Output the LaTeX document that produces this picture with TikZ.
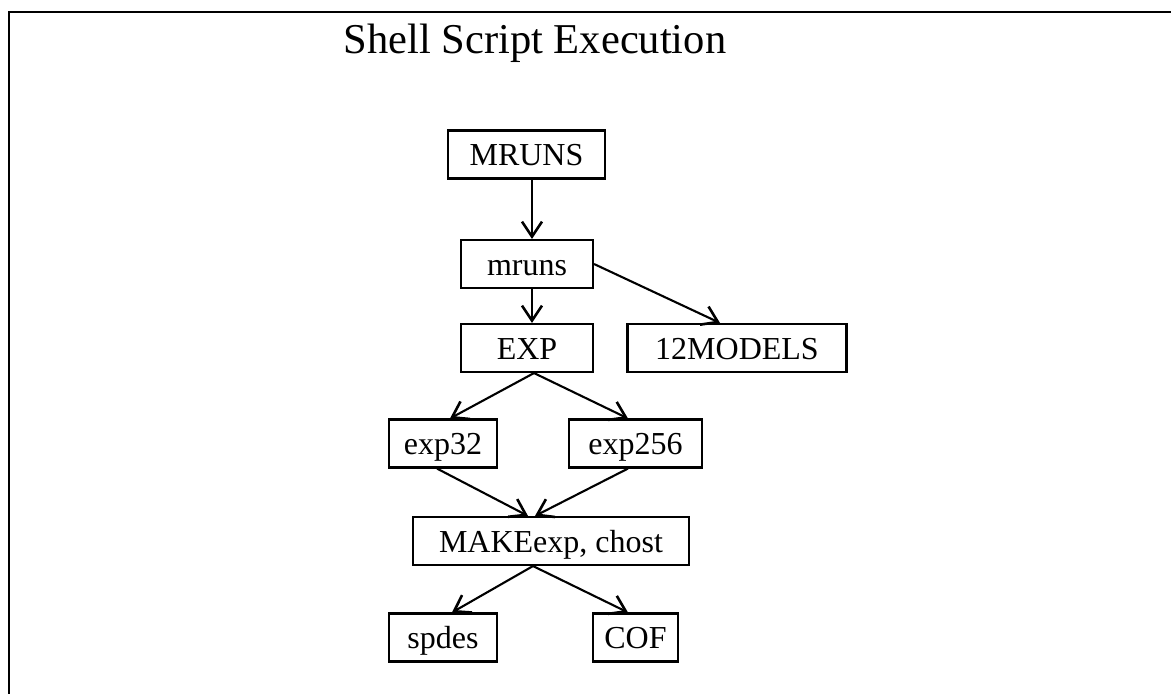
\documentclass[tikz,border=0pt]{standalone}
\usepackage{fontspec}
\setmainfont{Liberation Serif}
\usetikzlibrary{arrows.meta, calc}

\begin{document}
\begin{tikzpicture}[x=1pt, y=-1pt]
  \tikzset{
    sbox/.style={
      rectangle, draw, line width=2.1pt,
      minimum height=48pt, inner sep=0pt,
      text height=22pt, text depth=0pt,
      font=\fontsize{32}{36}\selectfont
    },
    flow/.style={-{Straight Barb[length=15pt, width=20pt, line width=2.6pt]}, line width=2.1pt}
  }
  \useasboundingbox (0,0) rectangle (1171,694);
  % open frame: only the top and left sides are ruled
  \draw[line width=2.8pt] (1171,12) -- (9,12) -- (9,694);
  \node[font=\fontsize{42.5}{48}\selectfont, anchor=base] (title) at (535,53) {Shell Script Execution};
  % script boxes
  \node[sbox, minimum width=157pt] (MRUNS)  at (526.5,154.5) {MRUNS};
  \node[sbox, minimum width=132pt] (mruns)  at (527,264)     {mruns};
  \node[sbox, minimum width=132pt] (EXP)    at (527,348)     {EXP};
  \node[sbox, minimum width=219pt] (models) at (737,348)     {12MODELS};
  \node[sbox, minimum width=108pt] (exp32)  at (443,443.5)   {exp32};
  \node[sbox, minimum width=133pt] (exp256) at (635.5,443.5) {exp256};
  \node[sbox, minimum width=276pt] (make)   at (551,541)     {MAKEexp, chost};
  \node[sbox, minimum width=108pt] (spdes)  at (443,637.5)   {spdes};
  \node[sbox, minimum width=85pt]  (COF)    at (635.5,637.5) {COF};
  % calls between scripts
  \foreach \fs/\from/\ts/\to in {
      5.5pt/MRUNS.south/5pt/mruns.north,
      5pt/mruns.south/5pt/EXP.north,
      0pt/mruns.east/-17pt/models.north,
      7pt/EXP.south/7pt/exp32.north,
      7pt/EXP.south/-7.5pt/exp256.north,
      -6pt/exp32.south/-23pt/make.north,
      -7.5pt/exp256.south/-16pt/make.north,
      -18pt/make.south/9pt/spdes.north,
      -18pt/make.south/-7.5pt/COF.north}{
    \draw[flow] ([xshift=\fs]\from) -- ([xshift=\ts]\to);
  }
\end{tikzpicture}
\end{document}
